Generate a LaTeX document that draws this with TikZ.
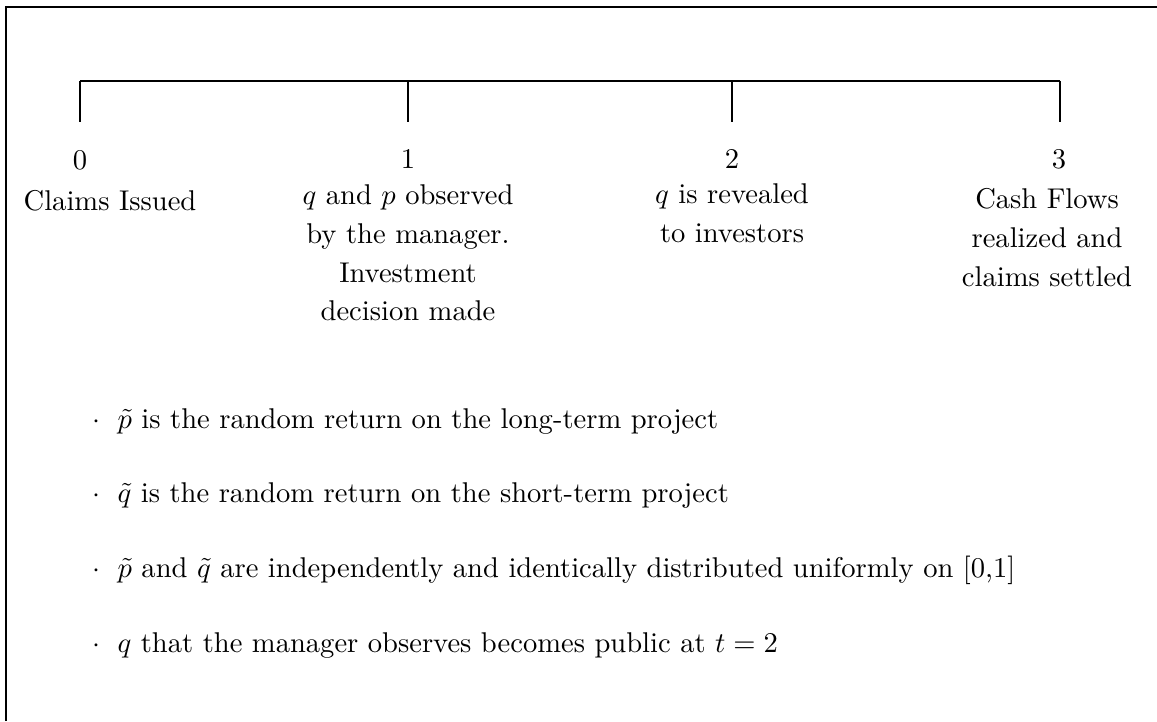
\documentclass[tikz,border=0pt]{standalone}
\begin{document}
\begin{tikzpicture}[x=0.35pt,y=-0.35pt,
  frameline/.style={line width=0.7pt},
  axisline/.style={line width=0.4pt},
  txt/.style={inner sep=0pt,font=\fontsize{10}{13.6}\selectfont},
  num/.style={txt,anchor=base},
  note/.style={txt,anchor=north,align=center},
  itemtext/.style={txt,anchor=base west},
  itemdot/.style={txt,anchor=base}]
\useasboundingbox (0,0) rectangle (1157,721);
% open frame: left and top edges
\draw[frameline] (5.5,721) -- (5.5,7) -- (1157,7);

% time line with four ticks
\coordinate (t0) at (80,81);   \coordinate (b0) at (80,122);
\coordinate (t1) at (408,81);  \coordinate (b1) at (408,122);
\coordinate (t2) at (732,81);  \coordinate (b2) at (732,122);
\coordinate (t3) at (1060,81); \coordinate (b3) at (1060,122);
\draw[axisline] (t0) -- (t1) -- (t2) -- (t3);
\foreach \i in {0,1,2,3} \draw[axisline] (t\i) -- (b\i);

% dates
\node[num] (n0) at (80,170) {0};
\node[num] (n1) at (408,169) {1};
\node[num] (n2) at (732,169) {2};
\node[num] (n3) at (1059,169) {3};

% events
\node[note] (d0) at (110,190) {Claims Issued};
\node[note] (d1) at (408,184) {$q$ and $p$ observed\\by the manager.\\Investment\\decision made};
\node[note] (d2) at (732,183) {$q$ is revealed\\to investors};
\node[note] (d3) at (1047,188) {Cash Flows\\realized and\\claims settled};

% assumptions
\node[itemdot] (k1) at (96,428) {$\cdot$};
\node[itemtext] (i1) at (117,428) {$\tilde{p}$ is the random return on the long-term project};
\node[itemdot] (k2) at (96,502) {$\cdot$};
\node[itemtext] (i2) at (117,502) {$\tilde{q}$ is the random return on the short-term project};
\node[itemdot] (k3) at (96,577) {$\cdot$};
\node[itemtext] (i3) at (117,577) {$\tilde{p}$ and $\tilde{q}$ are independently and identically distributed uniformly on [0,1]};
\node[itemdot] (k4) at (96,652) {$\cdot$};
\node[itemtext] (i4) at (117,652) {$q$ that the manager observes becomes public at $t=2$};
\end{tikzpicture}
\end{document}
